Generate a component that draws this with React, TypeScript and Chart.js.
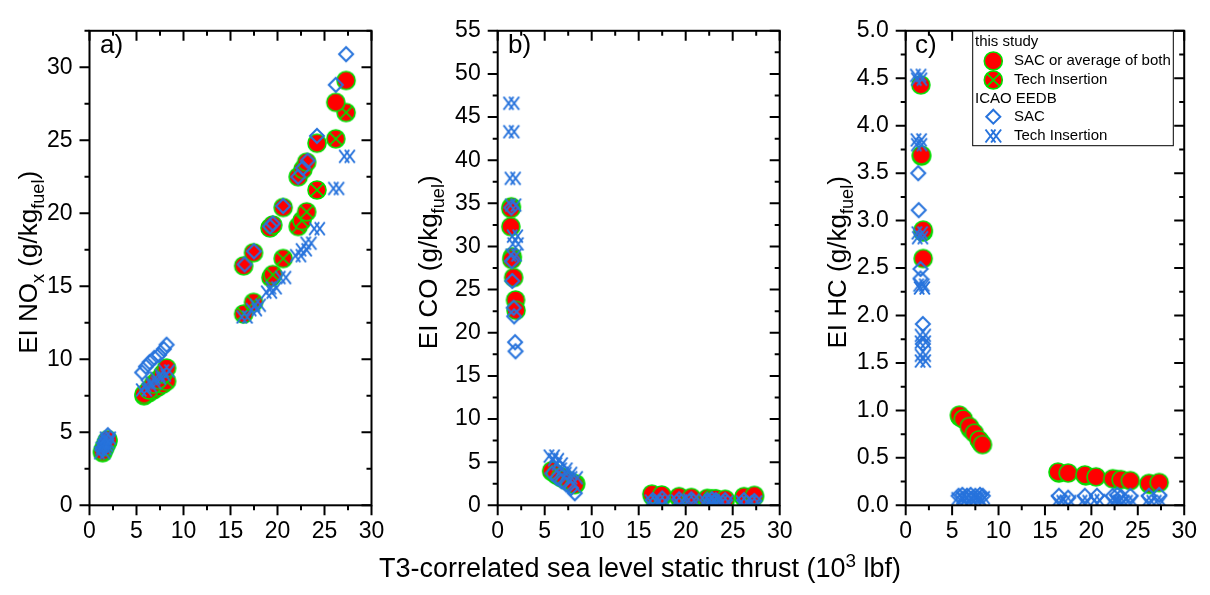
import React, { useEffect, useRef } from "react";
import { Chart, registerables } from "chart.js";
Chart.register(...registerables);

const W = 1210;
const H = 595;
const FONT = "Arial, 'Liberation Sans', sans-serif";
const RED = "#ff0000";
const GREEN = "#00e000";
const BLUE = "#2773dc";

// shared x axis
const xMin = 0;
const xMax = 30;
const xMajor = 5;
const xMinor = 2.5;
const xTitle = "T3-correlated sea level static thrust (10";
const xTitleSup = "3";
const xTitleEnd = " lbf)";

// ---------- Panel a: EI NOx ----------
const noxStudySacX = [1.4, 1.6, 1.8, 1.95, 5.8, 6.3, 6.8, 7.3, 7.8, 8.2, 16.4, 17.45, 19.2, 19.5, 20.6, 22.2, 22.7, 23.1, 24.2, 26.2, 27.3];
const noxStudySacY = [3.7, 4.0, 4.3, 4.5, 7.6, 7.9, 8.3, 8.6, 9.0, 9.4, 16.4, 17.3, 19.0, 19.2, 20.4, 22.5, 23.0, 23.5, 24.8, 27.6, 29.1];
const noxStudyTiX = [1.4, 1.6, 1.8, 1.95, 5.8, 6.3, 6.8, 7.3, 7.8, 8.2, 16.4, 17.45, 19.3, 19.5, 20.6, 22.2, 22.6, 23.1, 24.2, 26.2, 27.3];
const noxStudyTiY = [3.6, 3.9, 4.2, 4.4, 7.5, 7.7, 7.9, 8.1, 8.3, 8.5, 13.1, 13.9, 15.6, 15.8, 16.9, 19.1, 19.5, 20.1, 21.6, 25.1, 26.9];
const noxIcaoSacX = [1.35, 1.5, 1.65, 1.8, 1.95, 5.6, 6.0, 6.4, 6.9, 7.4, 7.9, 8.2, 16.5, 17.5, 19.2, 19.5, 20.6, 22.2, 22.7, 23.2, 24.2, 26.2, 27.3];
const noxIcaoSacY = [3.8, 4.0, 4.3, 4.5, 4.8, 9.1, 9.5, 9.8, 10.1, 10.3, 10.7, 11.0, 16.5, 17.4, 19.1, 19.3, 20.5, 22.5, 23.1, 23.6, 25.3, 28.8, 30.9];
const noxIcaoTiX = [1.35, 1.5, 1.65, 1.8, 1.95, 5.8, 6.3, 6.8, 7.3, 7.8, 8.2, 16.5, 17.5, 17.9, 19.1, 19.6, 20.6, 22.2, 22.8, 23.3, 24.2, 26.25, 27.4];
const noxIcaoTiY = [3.6, 3.9, 4.1, 4.3, 4.6, 7.9, 8.2, 8.4, 8.7, 8.9, 9.2, 12.9, 13.4, 13.7, 14.6, 14.9, 15.6, 17.1, 17.5, 17.95, 18.95, 21.7, 23.9];

// ---------- Panel b: EI CO ----------
const coStudySacX = [1.4, 1.4, 1.5, 1.7, 1.9, 1.95, 5.75, 6.2, 6.7, 7.2, 7.7, 8.2, 16.4, 17.45, 19.3, 20.6, 22.3, 22.8, 23.2, 24.2, 26.2, 27.3];
const coStudySacY = [34.4, 32.3, 28.5, 26.4, 23.8, 22.6, 4.0, 3.6, 3.3, 3.0, 2.7, 2.4, 1.3, 1.2, 1.0, 0.9, 0.8, 0.75, 0.75, 0.7, 1.0, 1.15];
const coStudyTiX = [1.45, 1.55, 5.8, 6.3, 6.8, 7.3, 7.8, 8.3, 16.5, 17.5, 19.3, 20.6, 22.3, 23.2, 24.2, 26.2, 27.3];
const coStudyTiY = [34.6, 28.8, 3.9, 3.5, 3.2, 2.9, 2.6, 2.5, 1.0, 1.0, 0.9, 0.8, 0.7, 0.7, 0.6, 0.9, 1.0];
const coIcaoSacX = [1.45, 1.5, 1.55, 1.7, 1.75, 1.85, 1.9, 5.8, 6.3, 6.8, 7.3, 7.8, 8.2, 16.5, 17.5, 19.3, 20.6, 22.3, 22.8, 23.2, 24.2, 26.2, 27.3];
const coIcaoSacY = [34.5, 28.3, 26.0, 22.9, 21.9, 18.9, 17.85, 3.7, 3.2, 2.8, 2.4, 2.0, 1.4, 0.6, 0.8, 0.7, 0.7, 0.6, 0.7, 0.6, 0.6, 0.6, 0.5];
const coIcaoTiX = [1.45, 1.45, 1.6, 1.65, 1.84, 1.9, 1.7, 5.75, 6.2, 6.6, 7.1, 7.6, 8.2, 16.5, 17.5, 19.3, 20.6, 22.3, 22.8, 23.2, 24.2, 26.2, 27.3];
const coIcaoTiY = [46.6, 43.3, 37.9, 34.8, 31.2, 30.3, 29.0, 5.7, 5.3, 4.8, 4.2, 3.7, 3.2, 0.5, 0.5, 0.5, 0.6, 0.5, 0.5, 0.5, 0.4, 0.4, 0.4];

// ---------- Panel c: EI HC ----------
const hcStudySacX = [1.63, 1.7, 1.88, 1.88, 5.78, 6.2, 6.85, 7.4, 7.9, 8.27, 16.4, 17.5, 19.3, 20.5, 22.3, 23.2, 24.2, 26.2, 27.3];
const hcStudySacY = [4.43, 3.69, 2.9, 2.6, 0.95, 0.91, 0.83, 0.76, 0.69, 0.64, 0.35, 0.34, 0.32, 0.3, 0.28, 0.27, 0.26, 0.23, 0.24];
const hcStudyTiX = [1.7, 1.88, 5.85, 7.0, 8.1, 16.5, 19.4, 22.8, 26.3];
const hcStudyTiY = [3.68, 2.88, 0.93, 0.8, 0.66, 0.34, 0.31, 0.27, 0.22];
const hcIcaoSacX = [1.35, 1.4, 1.6, 1.6, 1.85, 1.85, 5.7, 6.1, 6.6, 7.0, 7.5, 8.0, 8.3, 16.5, 17.5, 19.3, 20.6, 22.3, 22.8, 23.2, 24.2, 26.2, 27.3];
const hcIcaoSacY = [3.5, 3.11, 2.49, 2.39, 1.91, 1.7, 0.1, 0.11, 0.1, 0.11, 0.1, 0.11, 0.1, 0.1, 0.08, 0.1, 0.1, 0.1, 0.11, 0.09, 0.1, 0.1, 0.11];
const hcIcaoTiX = [1.35, 1.45, 1.4, 1.45, 1.5, 1.55, 1.7, 1.75, 1.85, 1.85, 1.85, 1.85, 5.8, 6.3, 6.8, 7.3, 7.8, 8.2, 16.5, 17.5, 19.3, 20.6, 22.3, 22.8, 23.2, 24.2, 26.2, 27.3];
const hcIcaoTiY = [4.53, 4.49, 3.85, 3.8, 2.87, 2.82, 2.32, 2.29, 1.79, 1.72, 1.58, 1.52, 0.07, 0.08, 0.07, 0.08, 0.07, 0.08, 0.04, 0.04, 0.04, 0.05, 0.04, 0.05, 0.04, 0.04, 0.04, 0.04];

// legend texts
const legendGroup1 = "this study";
const legendGroup2 = "ICAO EEDB";
const legendStudySac = "SAC or average of both";
const legendStudyTi = "Tech Insertion";
const legendIcaoSac = "SAC";
const legendIcaoTi = "Tech Insertion";

type Seg = { t: string; s?: "sub" | "sup" };

function setFont(ctx: CanvasRenderingContext2D, size: number) {
  ctx.font = `${size}px ${FONT}`;
}
function richWidth(ctx: CanvasRenderingContext2D, segs: Seg[], size: number) {
  let w = 0;
  for (const s of segs) {
    setFont(ctx, s.s ? size * 0.7 : size);
    w += ctx.measureText(s.t).width;
  }
  return w;
}
function drawRich(ctx: CanvasRenderingContext2D, segs: Seg[], x: number, y: number, size: number) {
  let cx = x;
  ctx.textBaseline = "alphabetic";
  ctx.textAlign = "left";
  for (const s of segs) {
    const sz = s.s ? size * 0.7 : size;
    setFont(ctx, sz);
    const dy = s.s === "sub" ? size * 0.28 : s.s === "sup" ? -size * 0.36 : 0;
    ctx.fillText(s.t, cx, y + dy);
    cx += ctx.measureText(s.t).width;
  }
}

function mk(draw: (c: CanvasRenderingContext2D) => void) {
  const c = document.createElement("canvas");
  c.width = 24;
  c.height = 24;
  const ctx = c.getContext("2d")!;
  draw(ctx);
  return c;
}
function drawCircle(ctx: CanvasRenderingContext2D, x: number, y: number, cross: boolean) {
  ctx.beginPath();
  ctx.arc(x, y, 9, 0, Math.PI * 2);
  ctx.fillStyle = RED;
  ctx.fill();
  ctx.lineWidth = 1.6;
  ctx.strokeStyle = GREEN;
  ctx.stroke();
  if (cross) {
    const d = 6.4;
    ctx.beginPath();
    ctx.moveTo(x - d, y - d);
    ctx.lineTo(x + d, y + d);
    ctx.moveTo(x + d, y - d);
    ctx.lineTo(x - d, y + d);
    ctx.lineWidth = 1.6;
    ctx.stroke();
  }
}
function drawDiamond(ctx: CanvasRenderingContext2D, x: number, y: number) {
  ctx.beginPath();
  ctx.moveTo(x, y - 7);
  ctx.lineTo(x + 7, y);
  ctx.lineTo(x, y + 7);
  ctx.lineTo(x - 7, y);
  ctx.closePath();
  ctx.lineWidth = 2;
  ctx.strokeStyle = BLUE;
  ctx.stroke();
}
function drawDblX(ctx: CanvasRenderingContext2D, x: number, y: number) {
  ctx.beginPath();
  for (const dx of [-2.8, 2.8]) {
    ctx.moveTo(x + dx - 5, y - 6.5);
    ctx.lineTo(x + dx + 5, y + 6.5);
    ctx.moveTo(x + dx + 5, y - 6.5);
    ctx.lineTo(x + dx - 5, y + 6.5);
  }
  ctx.lineWidth = 2;
  ctx.strokeStyle = BLUE;
  ctx.stroke();
}

const zip = (xs: number[], ys: number[]) => xs.map((x, i) => ({ x, y: ys[i] }));

type Panel = {
  left: number;
  yMax: number;
  yMajor: number;
  yMinor: number;
  decimals: number;
  label: string;
  labelX: number;
  titleX: number;
  title: Seg[];
  sSacX: number[]; sSacY: number[];
  sTiX: number[]; sTiY: number[];
  iSacX: number[]; iSacY: number[];
  iTiX: number[]; iTiY: number[];
  legend?: boolean;
  xTitle?: boolean;
};

const TOP = 19.3;
const BOTTOM = 505.3;
const PW = 282;
const YW = 60;
const XH = 50;
const TICK_FONT = 23;

const panels: Panel[] = [
  {
    left: 89.5, yMax: 32.5, yMajor: 5, yMinor: 2.5, decimals: 0, label: "a)", labelX: 100, titleX: 37,
    title: [{ t: "EI NO" }, { t: "x", s: "sub" }, { t: " (g/kg" }, { t: "fuel", s: "sub" }, { t: ")" }],
    sSacX: noxStudySacX, sSacY: noxStudySacY, sTiX: noxStudyTiX, sTiY: noxStudyTiY,
    iSacX: noxIcaoSacX, iSacY: noxIcaoSacY, iTiX: noxIcaoTiX, iTiY: noxIcaoTiY,
  },
  {
    left: 497.7, yMax: 55, yMajor: 5, yMinor: 2.5, decimals: 0, label: "b)", labelX: 508, titleX: 437,
    title: [{ t: "EI CO (g/kg" }, { t: "fuel", s: "sub" }, { t: ")" }],
    sSacX: coStudySacX, sSacY: coStudySacY, sTiX: coStudyTiX, sTiY: coStudyTiY,
    iSacX: coIcaoSacX, iSacY: coIcaoSacY, iTiX: coIcaoTiX, iTiY: coIcaoTiY,
    xTitle: true,
  },
  {
    left: 905.7, yMax: 5, yMajor: 0.5, yMinor: 0.25, decimals: 1, label: "c)", labelX: 915, titleX: 846,
    title: [{ t: "EI HC (g/kg" }, { t: "fuel", s: "sub" }, { t: ")" }],
    sSacX: hcStudySacX, sSacY: hcStudySacY, sTiX: hcStudyTiX, sTiY: hcStudyTiY,
    iSacX: hcIcaoSacX, iSacY: hcIcaoSacY, iTiX: hcIcaoTiX, iTiY: hcIcaoTiY,
    legend: true,
  },
];

function framePlugin(p: Panel) {
  return {
    id: "frame",
    afterDatasetsDraw(chart: any) {
      const ctx: CanvasRenderingContext2D = chart.ctx;
      const { left, right, top, bottom } = chart.chartArea;
      const xs = chart.scales.x;
      const ys = chart.scales.y;
      ctx.save();
      ctx.strokeStyle = "#000";
      ctx.lineWidth = 2;
      ctx.strokeRect(left, top, right - left, bottom - top);
      ctx.beginPath();
      for (let v = xMin; v <= xMax + 1e-9; v += xMinor) {
        const px = xs.getPixelForValue(v);
        const major = Math.abs(v / xMajor - Math.round(v / xMajor)) < 1e-6;
        const L = major ? 10 : 5;
        ctx.moveTo(px, bottom);
        ctx.lineTo(px, bottom + L);
        ctx.moveTo(px, top);
        ctx.lineTo(px, top + L);
      }
      for (let v = 0; v <= p.yMax + 1e-9; v += p.yMinor) {
        const py = ys.getPixelForValue(v);
        const major = Math.abs(v / p.yMajor - Math.round(v / p.yMajor)) < 1e-6;
        const L = major ? 10 : 5;
        ctx.moveTo(left, py);
        ctx.lineTo(left - L, py);
        ctx.moveTo(right, py);
        ctx.lineTo(right - L, py);
      }
      ctx.stroke();
      ctx.restore();
    },
    afterDraw(chart: any) {
      const ctx: CanvasRenderingContext2D = chart.ctx;
      ctx.save();
      ctx.fillStyle = "#000";
      // panel label
      setFont(ctx, 26);
      ctx.textAlign = "left";
      ctx.textBaseline = "alphabetic";
      ctx.fillText(p.label, p.labelX, 53);
      // y title
      const size = 26;
      ctx.save();
      ctx.translate(p.titleX, (TOP + BOTTOM) / 2);
      ctx.rotate(-Math.PI / 2);
      const w = richWidth(ctx, p.title, size);
      drawRich(ctx, p.title, -w / 2, 0, size);
      ctx.restore();
      if (p.xTitle) {
        const segs: Seg[] = [{ t: xTitle }, { t: xTitleSup, s: "sup" }, { t: xTitleEnd }];
        const xs = 27;
        const tw = richWidth(ctx, segs, xs);
        drawRich(ctx, segs, 640 - tw / 2, 577, xs);
      }
      if (p.legend) {
        const bx = 972.7, by = 31, bw = 200.6, bh = 114.7;
        ctx.fillStyle = "#fff";
        ctx.fillRect(bx, by, bw, bh);
        ctx.strokeStyle = "#000";
        ctx.lineWidth = 1;
        ctx.strokeRect(bx, by, bw, bh);
        ctx.fillStyle = "#000";
        setFont(ctx, 15);
        ctx.textBaseline = "middle";
        ctx.textAlign = "left";
        const rows = [42.3, 61, 80, 99, 116.7, 136];
        const mx = 993.3, tx = 1014;
        ctx.fillText(legendGroup1, 975, rows[0]);
        drawCircle(ctx, mx, rows[1], false);
        ctx.fillStyle = "#000";
        ctx.fillText(legendStudySac, tx, rows[1]);
        drawCircle(ctx, mx, rows[2], true);
        ctx.fillStyle = "#000";
        ctx.fillText(legendStudyTi, tx, rows[2]);
        ctx.fillText(legendGroup2, 975, rows[3]);
        drawDiamond(ctx, mx, rows[4]);
        ctx.fillText(legendIcaoSac, tx, rows[4]);
        drawDblX(ctx, mx, rows[5]);
        ctx.fillText(legendIcaoTi, tx, rows[5]);
      }
      ctx.restore();
    },
  };
}

function makeConfig(p: Panel, imgs: any) {
  const common = { pointRadius: 6, pointHoverRadius: 6, showLine: false, clip: 0 };
  return {
    type: "scatter" as const,
    data: {
      datasets: [
        { label: "ICAO Tech Insertion", data: zip(p.iTiX, p.iTiY), pointStyle: imgs.dblx, ...common },
        { label: "ICAO SAC", data: zip(p.iSacX, p.iSacY), pointStyle: imgs.diamond, ...common },
        { label: "SAC or average of both", data: zip(p.sSacX, p.sSacY), pointStyle: imgs.circle, ...common },
        { label: "Tech Insertion", data: zip(p.sTiX, p.sTiY), pointStyle: imgs.circleX, ...common },
      ],
    },
    options: {
      animation: false as const,
      responsive: false,
      maintainAspectRatio: false,
      events: [] as any[],
      layout: {
        padding: { left: p.left - YW, right: W - p.left - PW, top: TOP, bottom: H - BOTTOM - XH },
      },
      plugins: { legend: { display: false }, tooltip: { enabled: false }, title: { display: false } },
      scales: {
        x: {
          type: "linear" as const,
          position: "bottom" as const,
          min: xMin,
          max: xMax,
          grid: { drawOnChartArea: false, drawTicks: false },
          border: { display: false },
          ticks: { stepSize: xMajor, includeBounds: false, color: "#000", padding: 13, maxRotation: 0, font: { family: FONT, size: TICK_FONT } },
          afterFit: (s: any) => { s.height = XH; },
        },
        y: {
          type: "linear" as const,
          min: 0,
          max: p.yMax,
          grid: { drawOnChartArea: false, drawTicks: false },
          border: { display: false },
          ticks: {
            stepSize: p.yMajor,
            includeBounds: false,
            color: "#000",
            padding: 17,
            font: { family: FONT, size: TICK_FONT },
            callback: (v: any) => Number(v).toFixed(p.decimals),
          },
          afterFit: (s: any) => { s.width = YW; },
        },
      },
    },
    plugins: [framePlugin(p)],
  };
}

export default function App() {
  const r0 = useRef<HTMLCanvasElement>(null);
  const r1 = useRef<HTMLCanvasElement>(null);
  const r2 = useRef<HTMLCanvasElement>(null);
  useEffect(() => {
    const imgs = {
      circle: mk((c) => drawCircle(c, 12, 12, false)),
      circleX: mk((c) => drawCircle(c, 12, 12, true)),
      diamond: mk((c) => drawDiamond(c, 12, 12)),
      dblx: mk((c) => drawDblX(c, 12, 12)),
    };
    const refs = [r0, r1, r2];
    const charts = panels.map((p, i) => new Chart(refs[i].current!, makeConfig(p, imgs) as any));
    return () => charts.forEach((c) => c.destroy());
  }, []);
  const st: React.CSSProperties = { position: "absolute", left: 0, top: 0, width: W, height: H };
  return (
    <div style={{ position: "absolute", left: 0, top: 0, width: W, height: H, background: "#fff" }}>
      <canvas ref={r0} width={W} height={H} style={st} />
      <canvas ref={r1} width={W} height={H} style={st} />
      <canvas ref={r2} width={W} height={H} style={st} />
    </div>
  );
}
